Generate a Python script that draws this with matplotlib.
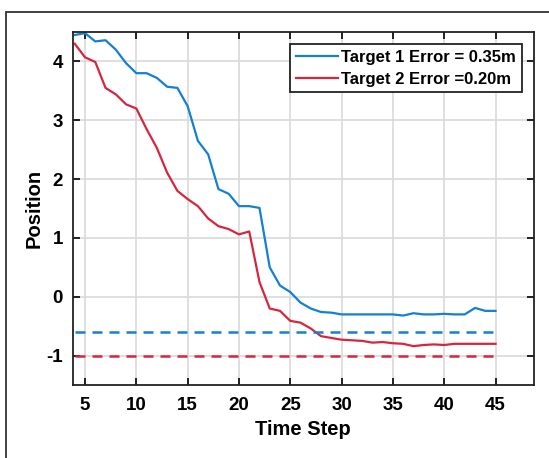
import matplotlib.pyplot as plt
from matplotlib.patches import Rectangle
import numpy as np

plt.rcParams['font.family'] = ['Liberation Sans', 'DejaVu Sans']
plt.rcParams['font.weight'] = 'bold'
plt.rcParams['axes.unicode_minus'] = False

# Data
time_steps = list(range(4, 46))
target1 = [4.45, 4.48, 4.34, 4.36, 4.20, 3.97, 3.80, 3.80, 3.72, 3.57,
           3.55, 3.24, 2.65, 2.42, 1.83, 1.75, 1.54, 1.54, 1.51, 0.50,
           0.19, 0.08, -0.10, -0.20, -0.26, -0.27, -0.30, -0.30, -0.30, -0.30,
           -0.30, -0.30, -0.32, -0.28, -0.30, -0.30, -0.29, -0.30, -0.30, -0.19,
           -0.24, -0.24]
target2 = [4.30, 4.07, 3.99, 3.55, 3.44, 3.27, 3.20, 2.85, 2.53, 2.11,
           1.80, 1.66, 1.54, 1.33, 1.20, 1.15, 1.06, 1.11, 0.25, -0.20,
           -0.24, -0.41, -0.44, -0.54, -0.67, -0.70, -0.73, -0.74, -0.75, -0.78,
           -0.77, -0.79, -0.80, -0.84, -0.82, -0.81, -0.82, -0.80, -0.80, -0.80,
           -0.80, -0.80]
target1_ref = -0.6
target2_ref = -1.0
labels = ["Target 1 Error = 0.35m", "Target 2 Error =0.20m"]

blue = "#1480D0"
red = "#D6263E"

fig = plt.figure(figsize=(5.49, 4.58), dpi=100)
ax = fig.add_axes([72.7 / 549, 1 - 385 / 458, (533.5 - 72.7) / 549, (385 - 32) / 458])

ax.plot(time_steps, target1, color=blue, lw=1.6, label=labels[0])
ax.plot(time_steps, target2, color=red, lw=1.6, label=labels[1])
ax.plot([time_steps[0], time_steps[-1]], [target1_ref, target1_ref], color=blue, lw=1.8, ls=(0, (4, 2.8)))
ax.plot([time_steps[0], time_steps[-1]], [target2_ref, target2_ref], color=red, lw=1.8, ls=(0, (4, 2.8)))

ax.set_xlim(3.8, 48.7)
ax.set_ylim(-1.5, 4.5)
ax.set_xticks(np.arange(5, 46, 5))
ax.set_yticks(np.arange(-1, 5, 1))
ax.grid(True, color="#d9d9d9", lw=1.2)
ax.set_axisbelow(True)
ax.tick_params(direction="in", top=True, right=True, labelsize=13.5, length=5, width=1.2)
ax.tick_params(axis="x", pad=9)
ax.tick_params(axis="y", pad=7)
for s in ax.spines.values():
    s.set_linewidth(1.3)
    s.set_color("#222222")

ax.set_xlabel("Time Step", fontsize=14.5, fontweight="bold", labelpad=4)
ax.set_ylabel("Position", fontsize=14.5, fontweight="bold", labelpad=2)

leg = ax.legend(loc="upper right", fontsize=12, fancybox=False, framealpha=1,
                edgecolor="#222222", handlelength=2.5, borderpad=0.35,
                labelspacing=0.42, handletextpad=0.2, borderaxespad=0.7)
leg.get_frame().set_linewidth(1.3)

# outer frame of the figure
fig.patches.append(Rectangle((5.5 / 549, -0.1), 1.2, 1 - 12 / 458 + 0.1, transform=fig.transFigure,
                             fill=False, edgecolor="#333333", lw=1.3, clip_on=False))

fig.savefig("out.png", dpi=100)
